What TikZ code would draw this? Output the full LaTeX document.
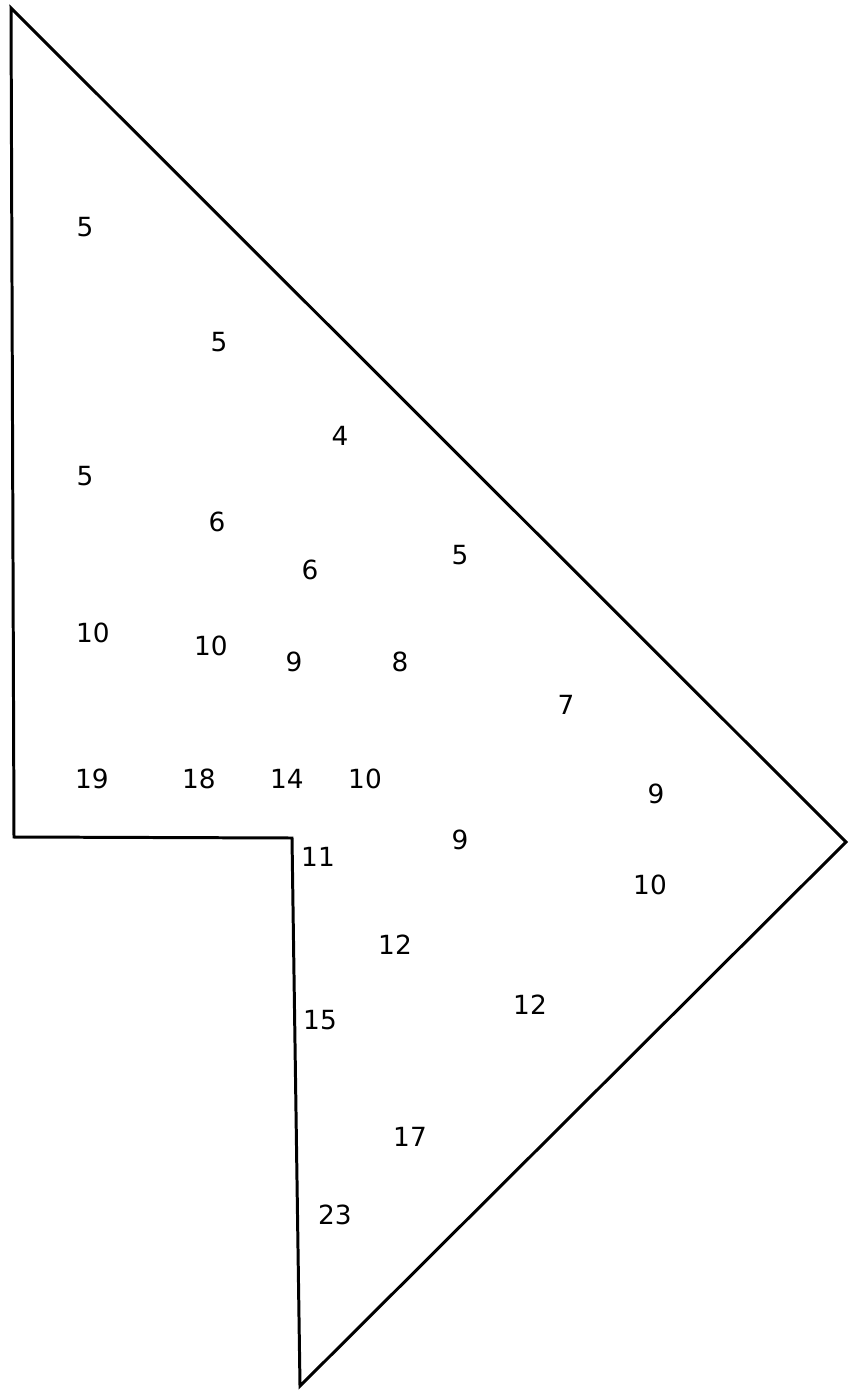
\documentclass[tikz,border=0pt]{standalone}
\usepackage{fontspec}
\setmainfont{DejaVu Sans}
\begin{document}
\begin{tikzpicture}[x=0.02cm,y=-0.02cm,
  outline/.style={draw=black,line width=1.7pt,line join=miter},
  val/.style={font=\fontsize{15}{17}\selectfont,text=black,inner sep=0pt}]
\useasboundingbox (0,0) rectangle (849,1391);
\coordinate (tl) at (11,8);
\coordinate (bl) at (14,837);
\coordinate (ic) at (292,838);
\coordinate (bt) at (300,1386);
\coordinate (rt) at (846,842);
\draw[outline] (tl) -- (bl) -- (ic) -- (bt) -- (rt) -- cycle;
\node[val] (n1) at (85,227) {5};
\node[val] (n2) at (219,342) {5};
\node[val] (n3) at (340,436) {4};
\node[val] (n4) at (85,476) {5};
\node[val] (n5) at (217,522) {6};
\node[val] (n6) at (310,570) {6};
\node[val] (n7) at (460,555) {5};
\node[val] (n8) at (93,633) {10};
\node[val] (n9) at (211,646) {10};
\node[val] (n10) at (294,662) {9};
\node[val] (n11) at (400,662) {8};
\node[val] (n12) at (566,705) {7};
\node[val] (n13) at (92,779) {19};
\node[val] (n14) at (199,779) {18};
\node[val] (n15) at (287,779) {14};
\node[val] (n16) at (365,779) {10};
\node[val] (n17) at (656,794) {9};
\node[val] (n18) at (460,840) {9};
\node[val] (n19) at (318,857) {11};
\node[val] (n20) at (650,885) {10};
\node[val] (n21) at (395,945) {12};
\node[val] (n22) at (530,1005) {12};
\node[val] (n23) at (320,1020) {15};
\node[val] (n24) at (410,1137) {17};
\node[val] (n25) at (335,1215) {23};
\end{tikzpicture}
\end{document}
